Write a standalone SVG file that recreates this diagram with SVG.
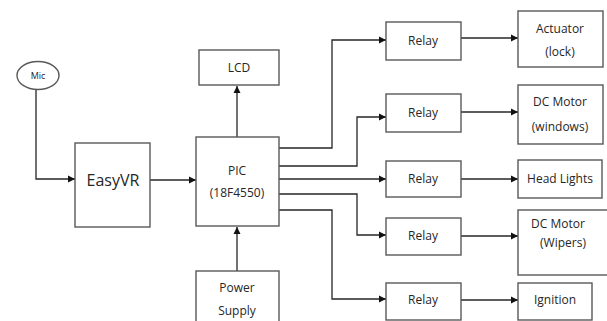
<svg xmlns="http://www.w3.org/2000/svg" width="607" height="321" viewBox="0 0 607 321">
<style>
.box{fill:#fff;stroke:#595959;stroke-width:1.4}
.t{font-family:"Open Sans","Liberation Sans",sans-serif;font-size:12px;fill:#262626;text-anchor:middle}
.c{fill:none;stroke:#262626;stroke-width:1.3}
</style>
<defs>
<marker id="ah" markerWidth="8" markerHeight="8" refX="7" refY="4" orient="auto" markerUnits="userSpaceOnUse">
<path d="M0,0.5 L7,4 L0,7.5 Z" fill="#111"/>
</marker>
</defs>
<rect width="607" height="321" fill="#fff"/>
<g id="connectors">
<path class="c" d="M36,89 V179 H75" marker-end="url(#ah)"/>
<path class="c" d="M150,180 H196" marker-end="url(#ah)"/>
<path class="c" d="M237,137 V86" marker-end="url(#ah)"/>
<path class="c" d="M237,271 V227" marker-end="url(#ah)"/>
<path class="c" d="M279,148 H332 V40 H386" marker-end="url(#ah)"/>
<path class="c" d="M279,166 H357 V117 H386" marker-end="url(#ah)"/>
<path class="c" d="M279,179 H386" marker-end="url(#ah)"/>
<path class="c" d="M279,194 H357 V235 H386" marker-end="url(#ah)"/>
<path class="c" d="M279,210 H332 V299 H386" marker-end="url(#ah)"/>
<path class="c" d="M461,38 H518" marker-end="url(#ah)"/>
<path class="c" d="M461,112 H518" marker-end="url(#ah)"/>
<path class="c" d="M461,179 H518" marker-end="url(#ah)"/>
<path class="c" d="M461,236 H518" marker-end="url(#ah)"/>
<path class="c" d="M461,300 H518" marker-end="url(#ah)"/>
</g>
<g id="mic"><ellipse class="box" cx="38" cy="75.5" rx="21" ry="14"/><text class="t" x="38" y="79" style="font-size:9px">Mic</text></g>
<g id="easyvr"><rect class="box" x="75" y="143" width="75" height="84"/><text class="t" x="113" y="186" style="font-size:16px">EasyVR</text></g>
<g id="lcd"><rect class="box" x="199" y="50" width="80" height="35"/><text class="t" x="239" y="72">LCD</text></g>
<g id="pic"><rect class="box" x="196" y="137" width="83" height="89"/><text class="t" x="237" y="175">PIC</text><text class="t" x="237" y="197">(18F4550)</text></g>
<g id="power"><rect class="box" x="196" y="271" width="83" height="56"/><text class="t" x="237" y="292">Power</text><text class="t" x="237" y="315">Supply</text></g>
<g id="relay1"><rect class="box" x="386" y="22" width="75" height="38"/><text class="t" x="423" y="45">Relay</text></g>
<g id="relay2"><rect class="box" x="386" y="94" width="75" height="38"/><text class="t" x="423" y="117">Relay</text></g>
<g id="relay3"><rect class="box" x="386" y="161" width="75" height="36"/><text class="t" x="423" y="183">Relay</text></g>
<g id="relay4"><rect class="box" x="386" y="218" width="75" height="37"/><text class="t" x="423" y="240">Relay</text></g>
<g id="relay5"><rect class="box" x="386" y="283" width="75" height="37"/><text class="t" x="423" y="304">Relay</text></g>
<g id="actuator"><rect class="box" x="518" y="11" width="85" height="56"/><text class="t" x="560" y="33">Actuator</text><text class="t" x="560" y="56">(lock)</text></g>
<g id="dcwindows"><rect class="box" x="518" y="85" width="85" height="59"/><text class="t" x="560" y="106">DC Motor</text><text class="t" x="560" y="131">(windows)</text></g>
<g id="headlights"><rect class="box" x="518" y="160" width="84" height="38"/><text class="t" x="560" y="183">Head Lights</text></g>
<g id="dcwipers"><rect class="box" x="518" y="210" width="92" height="65"/><text class="t" x="558" y="228">DC Motor</text><text class="t" x="563" y="247">(Wipers)</text></g>
<g id="ignition"><rect class="box" x="518" y="283" width="74" height="37"/><text class="t" x="555" y="304">Ignition</text></g>
</svg>
